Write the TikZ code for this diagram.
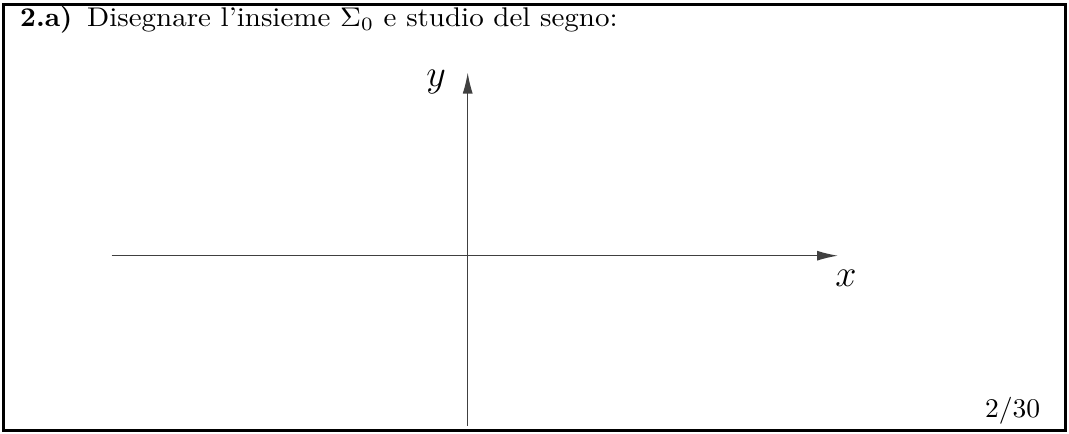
\RequirePackage{fix-cm}
\documentclass[tikz,border=0pt]{standalone}
\usepackage{amsmath}
\usepackage{graphicx}
\usetikzlibrary{arrows.meta}
\newcommand{\bigtxt}[2][2.9]{\scalebox{#1}[2.7]{#2}}
\begin{document}
\begin{tikzpicture}[x=1pt,y=-1pt,
  frame/.style={line width=3pt},
  axis/.style={line width=1.3pt,draw=black!75,-{Latex[length=21pt,width=10pt]}},
  title/.style={anchor=base west,inner sep=0pt,font=\fontsize{10}{12}\selectfont},
  axlabel/.style={inner sep=0pt,font=\fontsize{38}{44}\selectfont}]
\useasboundingbox (0,0) rectangle (1069,434);
\draw[frame] (3.5,4) rectangle (1065.5,430);
\node[title] (n) at (20,26) {\bigtxt[2.75]{\textbf{2.a)}}};
\node[title] (t) at (87,26) {\bigtxt{Disegnare l'insieme $\Sigma_0$ e studio del segno:}};
\node[title] (p) at (985,417) {\bigtxt[2.75]{$2/30$}};
\coordinate (xs) at (111.7,255.7);
\coordinate (xe) at (838,255.7);
\coordinate (ys) at (467.7,425.7);
\coordinate (ye) at (467.7,72.5);
\draw[axis] (xs) -- (xe);
\draw[axis] (ys) -- (ye);
\node[axlabel] (ylab) at (436,82) {$y$};
\node[axlabel] (xlab) at (846,278) {$x$};
\end{tikzpicture}
\end{document}
